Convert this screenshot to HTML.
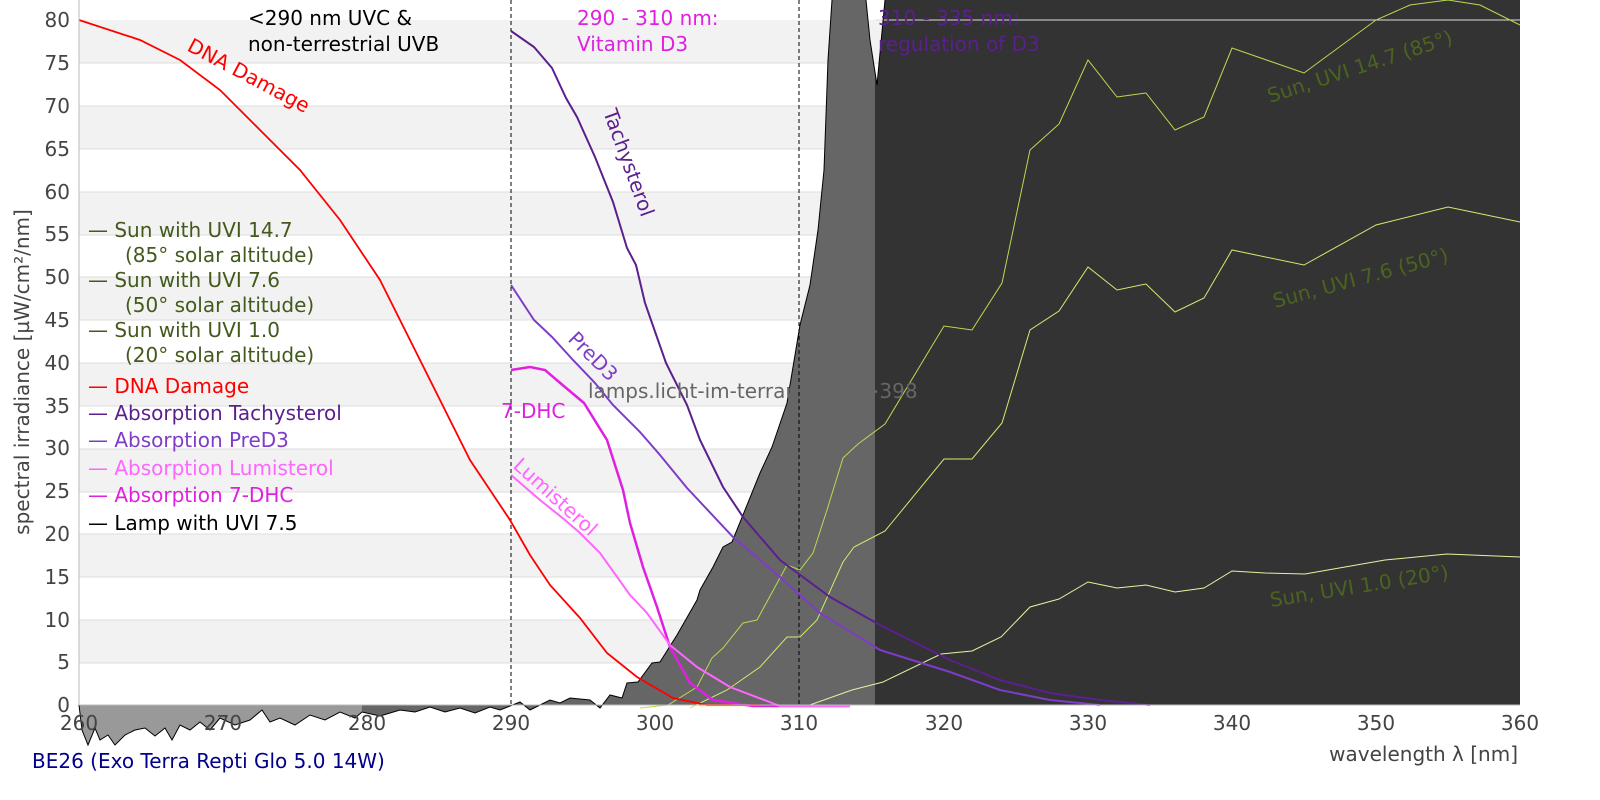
<!DOCTYPE html>
<html><head><meta charset="utf-8"><style>
html,body{margin:0;padding:0;background:#fff;width:1600px;height:800px;overflow:hidden}
svg{display:block;font-family:"DejaVu Sans","Liberation Sans",sans-serif}
</style></head><body>
<svg width="1600" height="800" viewBox="0 0 1600 800">
<defs>
<clipPath id="lamp"><polygon points="79,705 82,730 88,745 95,728 100,740 108,735 115,745 125,735 135,730 145,728 155,736 165,728 172,740 180,725 190,730 200,722 210,730 220,718 235,725 250,720 262,710 270,722 280,718 295,725 310,715 325,720 340,712 355,718 362,712 380,716 400,710 415,712 430,707 445,712 460,708 475,713 490,707 500,710 520,702 530,710 540,705 550,700 560,703 570,698 580,699 590,700 600,708 610,695 622,698 627,683 638,682 652,663 660,662 677,635 697,600 700,590 713,567 723,547 732,542 743,515 760,473 772,447 787,403 800,325 810,285 818,230 824,170 828,60 832,0 866,0 870,40 877,85 885,0 1520,0 1520,705"/></clipPath>
</defs>
<g fill="#f2f2f2">
<rect x="79" y="620" width="1441" height="43"/>
<rect x="79" y="534" width="1441" height="43"/>
<rect x="79" y="449" width="1441" height="43"/>
<rect x="79" y="363" width="1441" height="43"/>
<rect x="79" y="277" width="1441" height="43"/>
<rect x="79" y="192" width="1441" height="43"/>
<rect x="79" y="106" width="1441" height="43"/>
<rect x="79" y="20" width="1441" height="43"/>
</g>
<g stroke="#ddd" stroke-width="1">
<line x1="79" x2="1520" y1="663" y2="663"/><line x1="79" x2="1520" y1="620" y2="620"/><line x1="79" x2="1520" y1="577" y2="577"/><line x1="79" x2="1520" y1="534" y2="534"/><line x1="79" x2="1520" y1="492" y2="492"/><line x1="79" x2="1520" y1="449" y2="449"/><line x1="79" x2="1520" y1="406" y2="406"/><line x1="79" x2="1520" y1="363" y2="363"/><line x1="79" x2="1520" y1="320" y2="320"/><line x1="79" x2="1520" y1="277" y2="277"/><line x1="79" x2="1520" y1="235" y2="235"/><line x1="79" x2="1520" y1="192" y2="192"/><line x1="79" x2="1520" y1="149" y2="149"/><line x1="79" x2="1520" y1="106" y2="106"/><line x1="79" x2="1520" y1="63" y2="63"/>
</g>
<g clip-path="url(#lamp)">
<rect x="79" y="0" width="283" height="760" fill="#999"/>
<rect x="362" y="0" width="513" height="760" fill="#666"/>
<rect x="875" y="0" width="645" height="760" fill="#333"/>
</g>
<line x1="875" x2="1520" y1="20" y2="20" stroke="#ddd" stroke-width="1"/>
<polyline fill="none" stroke="#000" stroke-width="1" points="79,705 82,730 88,745 95,728 100,740 108,735 115,745 125,735 135,730 145,728 155,736 165,728 172,740 180,725 190,730 200,722 210,730 220,718 235,725 250,720 262,710 270,722 280,718 295,725 310,715 325,720 340,712 355,718 362,712 380,716 400,710 415,712 430,707 445,712 460,708 475,713 490,707 500,710 520,702 530,710 540,705 550,700 560,703 570,698 580,699 590,700 600,708 610,695 622,698 627,683 638,682 652,663 660,662 677,635 697,600 700,590 713,567 723,547 732,542 743,515 760,473 772,447 787,403 800,325 810,285 818,230 824,170 828,60 832,0"/>
<polyline fill="none" stroke="#000" stroke-width="1" points="866,0 870,40 877,85 885,0"/>
<line x1="511" x2="511" y1="0" y2="705" stroke="#000" stroke-dasharray="4,3"/>
<line x1="799" x2="799" y1="0" y2="705" stroke="#000" stroke-dasharray="4,3"/>
<g fill="none" stroke-width="1">
<polyline stroke="#b8dc50" points="640,708 668,705 697,687 712,658 723,648 743,623 757,620 787,565 800,570 813,553 827,510 843,458 858,444 885,424 944,326 972,330 1002,283 1030,150 1059,124 1088,60 1117,97 1146,93 1175,130 1204,117 1232,48 1304,73 1376,20 1410,5 1448,0 1480,5 1520,25"/>
<polyline stroke="#d0ec70" points="690,708 727,690 760,667 787,637 800,637 817,620 843,562 854,547 885,531 944,459 972,459 1002,423 1030,330 1059,311 1088,267 1117,290 1146,284 1175,312 1204,298 1232,250 1304,265 1376,225 1448,207 1520,222"/>
<polyline stroke="#e4f4a0" points="700,706 807,706 852,690 883,682 941,654 972,651 1001,637 1030,607 1059,599 1088,582 1117,588 1146,585 1175,592 1204,588 1232,571 1265,573 1305,574 1385,560 1447,554 1520,557"/>
</g>
<g fill="none" stroke-width="2">
<polyline stroke="#ff0000" stroke-width="1.8" points="79,20 140,40 180,60 220,90 260,130 300,170 340,220 380,280 410,340 440,400 470,460 490,490 510,520 530,555 550,585 580,618 607,653 637,677 673,698 707,705 760,705"/>
<polyline stroke="#5b1f8e" points="511,31 534,47 552,68 566,98 577,117 595,157 613,202 627,248 636,265 645,303 666,363 687,405 700,440 723,487 743,517 780,560 830,597 880,625 950,660 1000,680 1050,693 1100,700 1150,705"/>
<polyline stroke="#7e3cc8" points="511,285 534,320 552,337 573,360 595,383 613,405 640,432 660,455 687,488 733,537 780,577 820,613 880,650 950,672 1000,690 1050,700 1100,705"/>
<polyline stroke="#e020e0" stroke-width="2.5" points="511,370 530,367 545,370 559,382 584,403 607,440 623,490 630,523 643,567 657,607 670,647 690,683 713,700 753,706 850,706"/>
<polyline stroke="#ff66ff" points="511,475 540,500 565,520 580,533 600,553 630,595 647,613 670,645 697,667 730,687 780,706 850,706"/>
</g>
<line x1="79" x2="1520" y1="705" y2="705" stroke="#bbb"/>
<line x1="79" x2="79" y1="0" y2="705" stroke="#bbb"/>
<g font-size="20" fill="#444" text-anchor="end">
<text x="70" y="712">0</text><text x="70" y="669">5</text><text x="70" y="627">10</text><text x="70" y="584">15</text><text x="70" y="541">20</text><text x="70" y="498">25</text><text x="70" y="455">30</text><text x="70" y="413">35</text><text x="70" y="370">40</text><text x="70" y="327">45</text><text x="70" y="284">50</text><text x="70" y="241">55</text><text x="70" y="199">60</text><text x="70" y="156">65</text><text x="70" y="113">70</text><text x="70" y="70">75</text><text x="70" y="27">80</text>
</g>
<g font-size="20" fill="#444" text-anchor="middle">
<text x="79" y="730">260</text><text x="223" y="730">270</text><text x="367" y="730">280</text><text x="511" y="730">290</text><text x="655" y="730">300</text><text x="799" y="730">310</text><text x="944" y="730">320</text><text x="1088" y="730">330</text><text x="1232" y="730">340</text><text x="1376" y="730">350</text><text x="1520" y="730">360</text>
</g>
<text x="1518" y="761" font-size="20" fill="#444" text-anchor="end">wavelength λ [nm]</text>
<text transform="translate(29,372) rotate(-90)" font-size="20" fill="#444" text-anchor="middle">spectral irradiance [µW/cm²/nm]</text>
<text x="32" y="768" font-size="20" fill="#00008b">BE26 (Exo Terra Repti Glo 5.0 14W)</text>
<g font-size="20">
<text x="88" y="237" fill="#435a1c">— Sun with UVI 14.7</text>
<text x="125" y="262" fill="#435a1c">(85° solar altitude)</text>
<text x="88" y="287" fill="#435a1c">— Sun with UVI 7.6</text>
<text x="125" y="312" fill="#435a1c">(50° solar altitude)</text>
<text x="88" y="337" fill="#435a1c">— Sun with UVI 1.0</text>
<text x="125" y="362" fill="#435a1c">(20° solar altitude)</text>
<text x="88" y="393" fill="#ff0000">— DNA Damage</text>
<text x="88" y="420" fill="#5b1f8e">— Absorption Tachysterol</text>
<text x="88" y="447" fill="#7e3cc8">— Absorption PreD3</text>
<text x="88" y="475" fill="#ff66ff">— Absorption Lumisterol</text>
<text x="88" y="502" fill="#e020e0">— Absorption 7-DHC</text>
<text x="88" y="530" fill="#000">— Lamp with UVI 7.5</text>
</g>
<g font-size="20">
<text x="248" y="25" fill="#000">&lt;290 nm UVC &amp;</text>
<text x="248" y="51" fill="#000">non-terrestrial UVB</text>
<text x="577" y="25" fill="#e020e0">290 - 310 nm:</text>
<text x="577" y="51" fill="#e020e0">Vitamin D3</text>
<text x="878" y="25" fill="#5b1f8e">310 - 335 nm:</text>
<text x="878" y="51" fill="#5b1f8e">regulation of D3</text>
<text x="588" y="398" fill="#666">lamps.licht-im-terrarium.de&gt;398</text>
<text transform="translate(186,50) rotate(28)" fill="#ff0000">DNA Damage</text>
<text transform="translate(603,112) rotate(70)" fill="#5b1f8e">Tachysterol</text>
<text transform="translate(567,340) rotate(45)" fill="#7e3cc8">PreD3</text>
<text x="501" y="418" fill="#e020e0">7-DHC</text>
<text transform="translate(512,467) rotate(42)" fill="#ff66ff">Lumisterol</text>
<text transform="translate(1270,103) rotate(-18)" fill="#4a6420">Sun, UVI 14.7 (85°)</text>
<text transform="translate(1275,308) rotate(-15)" fill="#4a6420">Sun, UVI 7.6 (50°)</text>
<text transform="translate(1271,607) rotate(-9)" fill="#4a6420">Sun, UVI 1.0 (20°)</text>
</g>
</svg>
</body></html>
